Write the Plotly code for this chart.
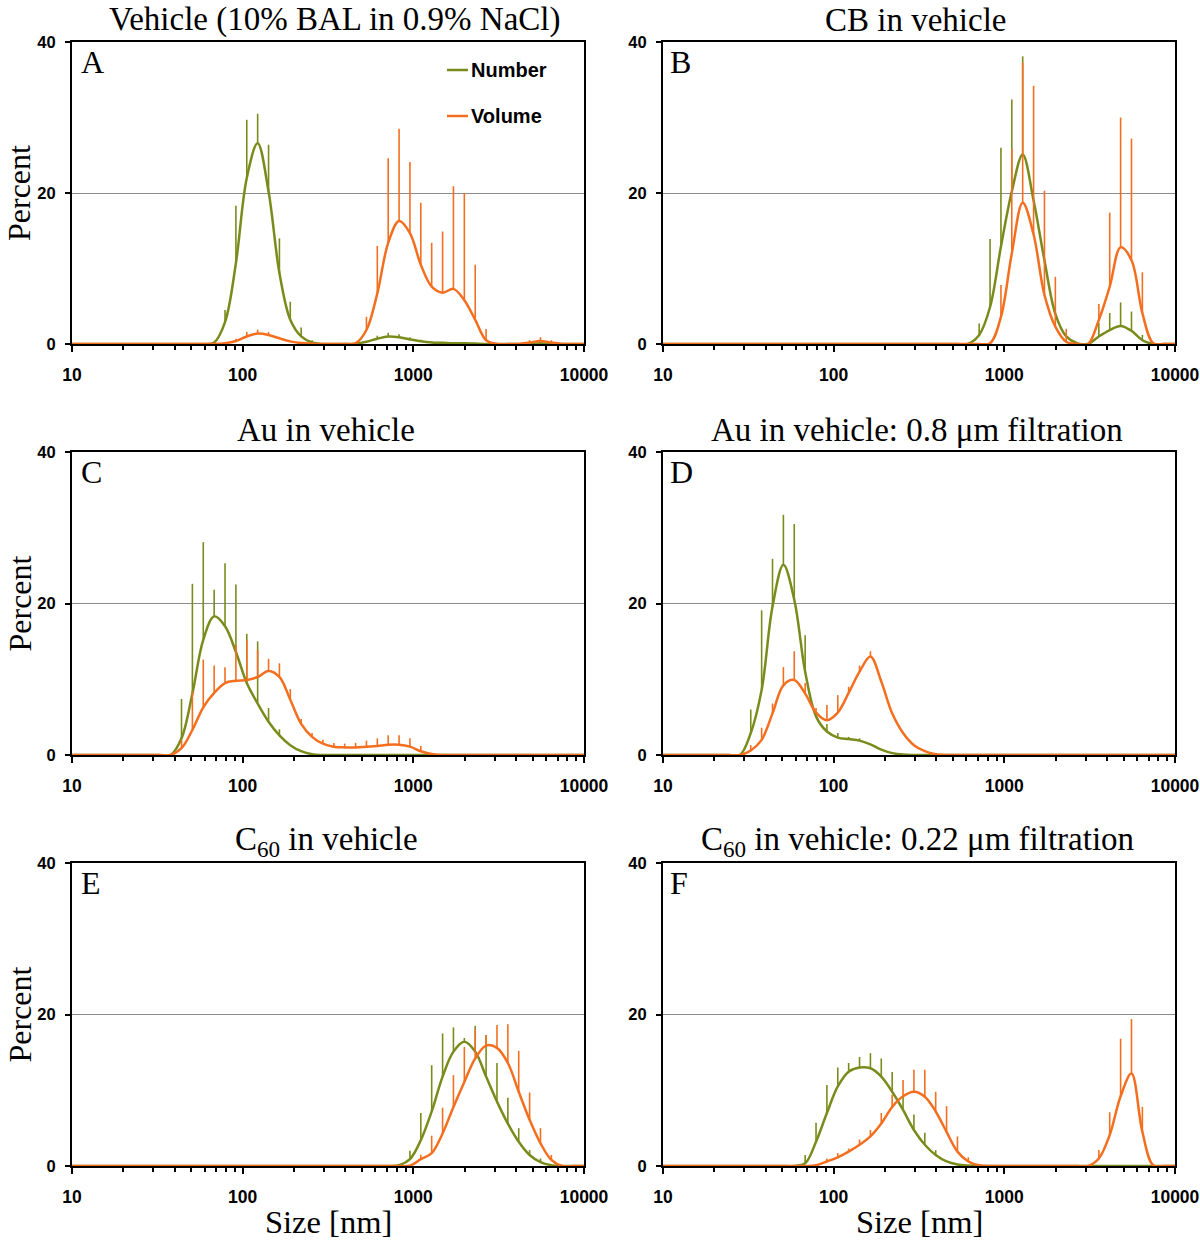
import plotly.graph_objects as go

# ---------------- data ----------------
sizes = [8.721, 10.1, 11.7, 13.54, 15.69, 18.17, 21.04, 24.36, 28.21, 32.67,
         37.84, 43.82, 50.75, 58.77, 68.06, 78.82, 91.28, 105.7, 122.4, 141.8,
         164.2, 190.1, 220.2, 255.0, 295.3, 342.0, 396.1, 458.7, 531.2, 615.1,
         712.4, 825.0, 955.4, 1106, 1281, 1484, 1718, 1990, 2305, 2669,
         3091, 3580, 4145, 4801, 5560, 6439, 7456, 8635, 10000]

Z10 = [0] * 10

A_num = Z10 + [0, 0, 0, 0, 0.2, 2.9, 10.7, 22.0, 26.6, 20.2,
               9.4, 3.2, 1.0, 0.2, 0, 0, 0, 0.05, 0.3, 0.7,
               1.0, 0.9, 0.6, 0.35, 0.2, 0.15, 0.1, 0.1, 0.05, 0,
               0, 0, 0, 0, 0.1, 0, 0, 0, 0]
A_num_err = Z10 + [0, 0, 0, 0, 0, 1.6, 7.6, 7.7, 3.9, 6.2,
                   4.6, 2.4, 1.2, 0.3, 0, 0, 0, 0, 0, 0.4,
                   0.5, 0.4, 0.3, 0.2, 0.1, 0.1, 0.1, 0, 0, 0,
                   0, 0, 0, 0, 0, 0, 0, 0, 0]
A_vol = Z10 + [0, 0, 0, 0, 0, 0.1, 0.4, 1.0, 1.4, 1.2,
               0.75, 0.35, 0.12, 0.03, 0, 0, 0, 0.1, 1.85, 6.7,
               13.4, 16.3, 14.7, 10.5, 7.6, 6.8, 7.3, 5.8, 3.2, 0.5,
               0, 0, 0, 0.2, 0.4, 0.2, 0, 0, 0]
A_vol_err = Z10 + [0, 0, 0, 0, 0, 0, 0.3, 0.6, 0.5, 0.4,
                   0.2, 0, 0, 0, 0, 0, 0, 0, 1.75, 6.3,
                   11.2, 12.2, 9.4, 8.2, 5.8, 8.1, 13.6, 14.2, 7.3, 1.5,
                   0, 0, 0, 0.3, 0.5, 0.3, 0, 0, 0]

B_num = Z10 + Z10 + [0, 0, 0, 0, 0, 0, 0, 0, 0, 0.05,
                     1.2, 4.9, 12.9, 20.2, 25.1, 19.0, 11.1, 4.0, 1.0, 0.1,
                     0, 1.0, 1.85, 2.4, 1.75, 0.5, 0, 0, 0]
B_num_err = Z10 + Z10 + [0] * 10 + [1.5, 9.0, 13.1, 12.2, 13.0, 0, 0, 0, 0, 0,
                                    0, 1.8, 2.25, 3.1, 2.55, 0.7, 0, 0, 0]
B_vol = Z10 + Z10 + [0] * 10 + [0, 0.1, 3.6, 12.0, 18.7, 14.5, 6.5, 2.3, 0.3, 0,
                                0, 3.2, 7.6, 12.8, 11.1, 4.1, 0.1, 0, 0]
B_vol_err = Z10 + Z10 + [0] * 10 + [0, 0, 4.2, 13.8, 18.6, 19.7, 13.8, 6.6, 1.7, 0,
                                    0, 2.1, 9.8, 17.2, 16.1, 5.4, 0, 0, 0]

C_num = Z10 + [0, 2.2, 8.1, 15.2, 18.3, 17.0, 13.6, 9.5, 6.8, 4.4,
               2.6, 1.3, 0.5, 0.1, 0, 0, 0, 0, 0, 0,
               0, 0, 0, 0, 0, 0, 0, 0, 0, 0,
               0, 0, 0, 0, 0, 0, 0, 0, 0]
C_num_err = Z10 + [0, 5.2, 14.5, 12.9, 3.5, 8.3, 8.9, 6.5, 8.2, 1.8,
                   0.8, 0, 0, 0, 0, 0, 0, 0, 0, 0,
                   0, 0, 0, 0, 0, 0, 0, 0, 0, 0,
                   0, 0, 0, 0, 0, 0, 0, 0, 0]
C_vol = Z10 + [0, 0.9, 3.3, 6.3, 8.2, 9.5, 9.8, 9.9, 10.3, 11.1,
               10.3, 7.3, 4.1, 2.4, 1.5, 1.1, 1.0, 1.0, 1.1, 1.2,
               1.35, 1.35, 1.1, 0.5, 0.15, 0, 0, 0, 0, 0,
               0, 0, 0, 0, 0, 0, 0, 0, 0]
C_vol_err = Z10 + [0, 1.1, 5.1, 6.3, 3.6, 2.1, 4.7, 5.3, 3.6, 1.6,
                   1.8, 1.4, 0.65, 0.5, 0.5, 0.5, 0.5, 0.6, 0.8, 1.0,
                   1.25, 1.25, 1.1, 0.7, 0, 0, 0, 0, 0, 0,
                   0, 0, 0, 0, 0, 0, 0, 0, 0]

D_num = [0, 0, 0, 0, 0, 0, 0, 0, 0, 2.9,
         8.6, 19.6, 25.1, 20.5, 11.0, 5.1, 3.1, 2.3, 2.1, 1.9,
         1.4, 0.7, 0.25, 0.05, 0, 0, 0, 0, 0, 0,
         0, 0, 0, 0, 0, 0, 0, 0, 0, 0,
         0, 0, 0, 0, 0, 0, 0, 0, 0]
D_num_err = [0, 0, 0, 0, 0, 0, 0, 0, 0, 3.1,
             10.5, 6.3, 6.6, 10.0, 4.8, 0, 1.0, 0.6, 0.3, 0.3,
             0, 0, 0, 0, 0, 0, 0, 0, 0, 0,
             0, 0, 0, 0, 0, 0, 0, 0, 0, 0,
             0, 0, 0, 0, 0, 0, 0, 0, 0]
D_vol = [0, 0, 0, 0, 0, 0, 0, 0, 0, 0.6,
         2.0, 5.5, 9.2, 9.9, 8.1, 5.6, 4.6, 5.6, 8.2, 11.0,
         13.0, 9.7, 5.5, 2.9, 1.3, 0.5, 0.1, 0, 0, 0,
         0, 0, 0, 0, 0, 0, 0, 0, 0, 0,
         0, 0, 0, 0, 0, 0, 0, 0, 0]
D_vol_err = [0, 0, 0, 0, 0, 0, 0, 0, 0, 0.7,
             1.6, 1.3, 2.4, 3.8, 1.4, 0.6, 2.0, 2.3, 0.8, 0.8,
             0.7, 0.3, 0, 0, 0, 0, 0, 0, 0, 0,
             0, 0, 0, 0, 0, 0, 0, 0, 0, 0,
             0, 0, 0, 0, 0, 0, 0, 0, 0]

E_num = Z10 + Z10 + Z10 + [0, 0.1, 0.9, 3.4, 7.2, 11.8, 15.1, 16.4, 15.1, 11.8,
                           8.5, 5.6, 3.2, 1.45, 0.5, 0.1, 0, 0, 0]
E_num_err = Z10 + Z10 + Z10 + [0, 0, 1.1, 3.6, 6.1, 5.7, 3.2, 0.5, 3.4, 5.5,
                               5.1, 3.4, 1.8, 0.65, 0.5, 0, 0, 0, 0]
E_vol = Z10 + Z10 + Z10 + [0, 0, 0.05, 0.9, 1.7, 4.3, 7.8, 11.1, 14.2, 15.9,
                           15.6, 13.6, 9.8, 6.1, 3.0, 0.8, 0, 0, 0]
E_vol_err = Z10 + Z10 + Z10 + [0, 0, 0, 0.6, 2.3, 3.4, 4.2, 4.6, 3.8, 1.4,
                               3.0, 5.1, 5.4, 3.6, 2.0, 0.65, 0, 0, 0]

F_num = Z10 + [0, 0, 0, 0, 0.35, 3.2, 7.0, 10.5, 12.45, 13.0,
               12.9, 11.8, 9.8, 7.4, 4.75, 2.8, 1.45, 0.6, 0.2, 0.05,
               0, 0, 0, 0, 0, 0, 0, 0, 0, 0,
               0, 0, 0, 0, 0, 0, 0, 0, 0]
F_num_err = Z10 + [0, 0, 0, 0, 1.1, 2.5, 3.7, 2.5, 1.15, 1.4,
                   2.0, 2.4, 2.6, 1.8, 2.05, 1.6, 0.65, 0, 0, 0,
                   0, 0, 0, 0, 0, 0, 0, 0, 0, 0,
                   0, 0, 0, 0, 0, 0, 0, 0, 0]
F_vol = Z10 + [0, 0, 0, 0, 0, 0.1, 0.6, 1.15, 1.9, 2.8,
               3.9, 5.6, 7.8, 9.2, 9.8, 9.15, 7.2, 4.5, 1.9, 0.6,
               0.1, 0, 0, 0, 0, 0, 0, 0, 0, 0,
               0, 1.0, 4.1, 9.2, 12.2, 4.5, 0.1, 0, 0]
F_vol_err = Z10 + [0, 0, 0, 0, 0, 0, 0.4, 0.55, 0.4, 0.7,
                   0.85, 1.4, 1.6, 2.15, 2.9, 3.55, 2.6, 3.4, 2.0, 0.55,
                   0, 0, 0, 0, 0, 0, 0, 0, 0, 0,
                   0, 1.1, 3.0, 7.6, 7.2, 3.3, 0, 0, 0]

x_tick_vals = [10, 100, 1000, 10000]
x_tick_text = ["10", "100", "1000", "10000"]
x_minor_vals = [20, 30, 40, 50, 60, 70, 80, 90,
                200, 300, 400, 500, 600, 700, 800, 900,
                2000, 3000, 4000, 5000, 6000, 7000, 8000, 9000]
y_tick_vals = [0, 20, 40]
y_tick_text = ["0", "20", "40"]

letters = ["A", "B", "C", "D", "E", "F"]
titles = ["Vehicle (10% BAL in 0.9% NaCl)",
          "CB in vehicle",
          "Au in vehicle",
          "Au in vehicle: 0.8 μm filtration",
          "C<sub>60</sub> in vehicle",
          "C<sub>60</sub> in vehicle: 0.22 μm filtration"]
series = [(A_num, A_num_err, A_vol, A_vol_err),
          (B_num, B_num_err, B_vol, B_vol_err),
          (C_num, C_num_err, C_vol, C_vol_err),
          (D_num, D_num_err, D_vol, D_vol_err),
          (E_num, E_num_err, E_vol, E_vol_err),
          (F_num, F_num_err, F_vol, F_vol_err)]
legend_names = ["Number", "Volume"]

for s in series:
    for arr in s:
        assert len(arr) == len(sizes), len(arr)

# ---------------- style / layout ----------------
W, H = 1200, 1240
GREEN = "#7A8B1C"
ORANGE = "#F36F1F"
SERIF = "Liberation Serif"
SANS = "Liberation Sans"

cols = [(72, 584), (663, 1175)]
rows = [(42, 344), (452, 755), (863, 1166)]
title_pos = [(335, 20), (915, 20), (326, 430), (917, 430), (326, 841), (917, 841)]
letter_pos = [(79, 62), (668, 62), (79, 472), (668, 472), (79, 883), (668, 883)]

fig = go.Figure()
layout = dict(width=W, height=H, margin=dict(l=0, r=0, t=0, b=0, autoexpand=False),
              paper_bgcolor="white", plot_bgcolor="white", showlegend=False)
annotations = []
shapes = []

for i, (num, num_err, vol, vol_err) in enumerate(series):
    k = i + 1
    suf = "" if k == 1 else str(k)
    xa, ya = "x" + suf, "y" + suf
    r, c = i // 2, i % 2
    for vals, errs, col in [(num, num_err, GREEN), (vol, vol_err, ORANGE)]:
        fig.add_trace(go.Scatter(
            x=sizes, y=vals, mode="lines",
            line=dict(color=col, width=2.5, shape="spline", smoothing=1.0),
            error_y=dict(type="data", symmetric=False, array=errs,
                         arrayminus=[0] * len(errs), color=col,
                         thickness=1.6, width=0),
            xaxis=xa, yaxis=ya, hoverinfo="skip", showlegend=False))
    x0, x1 = cols[c]
    y0, y1 = rows[r]
    layout["xaxis" + suf] = dict(
        domain=[x0 / W, x1 / W], anchor=ya, type="log", range=[1, 4],
        automargin=False,
        showline=True, linecolor="black", linewidth=2, mirror=True,
        ticks="outside", ticklen=6, tickwidth=2, tickcolor="black",
        tickvals=x_tick_vals, ticktext=x_tick_text,
        tickfont=dict(family=SANS, size=17.5, color="black", weight="bold"),
        ticklabelstandoff=8,
        minor=dict(tickmode="array", tickvals=x_minor_vals, ticks="outside",
                   ticklen=4, tickwidth=1.5, tickcolor="black", showgrid=False),
        showgrid=False, zeroline=False, layer="below traces", fixedrange=True)
    layout["yaxis" + suf] = dict(
        domain=[1 - y1 / H, 1 - y0 / H], anchor=xa, range=[0, 40],
        automargin=False,
        showline=True, linecolor="black", linewidth=2, mirror=True,
        ticks="outside", ticklen=5, tickwidth=1.5, tickcolor="black",
        tickvals=y_tick_vals, ticktext=y_tick_text,
        tickfont=dict(family=SANS, size=16.5, color="black", weight="bold"),
        ticklabelstandoff=6,
        showgrid=True, gridcolor="#8c8c8c", gridwidth=1,
        zeroline=False, layer="below traces", fixedrange=True)

    tx, ty = title_pos[i]
    annotations.append(dict(text=titles[i], x=tx / W, y=1 - ty / H, xref="paper", yref="paper",
                            xanchor="center", yanchor="middle", showarrow=False,
                            font=dict(family=SERIF, size=33, color="black")))
    lx, ly = letter_pos[i]
    annotations.append(dict(text=letters[i], x=lx / W, y=1 - ly / H, xref="paper", yref="paper",
                            xanchor="left", yanchor="middle", showarrow=False,
                            font=dict(family=SERIF, size=32, color="black")))
    if c == 0:
        annotations.append(dict(text="Percent", x=19 / W, y=1 - ((y0 + y1) / 2) / H,
                                xref="paper", yref="paper", xanchor="center", yanchor="middle",
                                textangle=-90, showarrow=False, borderpad=0,
                                font=dict(family=SERIF, size=32, color="black")))
    if r == 2:
        annotations.append(dict(text="Size [nm]", x=((x0 + x1) / 2) / W, y=1 - 1222 / H,
                                xref="paper", yref="paper", xanchor="center", yanchor="middle",
                                showarrow=False,
                                font=dict(family=SERIF, size=32.5, color="black")))

# legend inside panel A
for name, col, ly in [(legend_names[0], GREEN, 70), (legend_names[1], ORANGE, 116)]:
    shapes.append(dict(type="line", xref="paper", yref="paper",
                       x0=447 / W, x1=468 / W, y0=1 - ly / H, y1=1 - ly / H,
                       line=dict(color=col, width=2.5)))
    annotations.append(dict(text=name, x=469 / W, y=1 - ly / H, xref="paper", yref="paper",
                            xanchor="left", yanchor="middle", showarrow=False,
                            font=dict(family=SANS, size=20, color="black", weight="bold")))

layout["annotations"] = annotations
layout["shapes"] = shapes
fig.update_layout(**layout)
fig.write_html(
    "out.html",
    config={"displayModeBar": False},
    post_script="document.body.style.margin='0';document.body.style.overflow='hidden';",
)
